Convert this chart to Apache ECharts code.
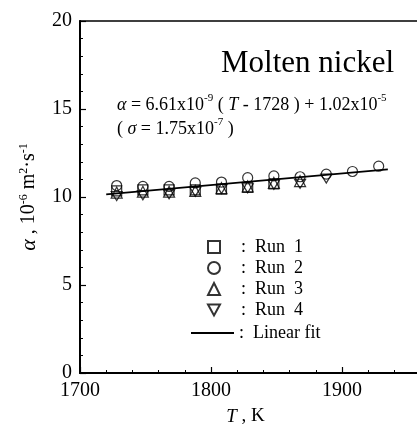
<!DOCTYPE html>
<html><head><meta charset="utf-8">
<script src="https://cdn.jsdelivr.net/npm/echarts@6/dist/echarts.min.js"></script>
<style>html,body{margin:0;padding:0;background:#fff}#c{width:417px;height:437px}</style>
</head><body><div id="c"></div>
<script>
var temps = [1728, 1748, 1768, 1788, 1808, 1828, 1848, 1868, 1888, 1908, 1928];
var run1 = [10.35, 10.4, 10.4, 10.4, 10.45, 10.55, 10.75];
var run2 = [10.65, 10.6, 10.6, 10.8, 10.85, 11.1, 11.2, 11.15, 11.3, 11.45, 11.75];
var run3 = [10.25, 10.3, 10.3, 10.35, 10.5, 10.6, 10.8, 10.9];
var run4 = [10.05, 10.1, 10.15, 10.3, 10.45, 10.5, 10.7, 10.75, 11.05];
var fitT = [1720, 1935];
var fitA = [10.15, 11.57];
var xTicks = [1700, 1800, 1900, 2000];
var yTicks = [0, 5, 10, 15, 20];

function pairs(xs, ys){ return ys.map(function(v,i){ return [xs[i], v]; }); }
var F = 'Liberation Serif, Times New Roman, serif';
var hollow = {color:'rgba(255,255,255,0)', borderColor:'#000', borderWidth:1.2};
var chart = echarts.init(document.getElementById('c'));
chart.setOption({
  animation:false,
  backgroundColor:'#fff',
  grid:{left:80, top:21, width:393, height:352, show:true, borderColor:'#000', borderWidth:1.5, backgroundColor:'transparent', outerBoundsMode:'none', containLabel:false},
  xAxis:{type:'value', min:xTicks[0], max:xTicks[xTicks.length-1], interval:100,
    axisLine:{lineStyle:{color:'#000', width:2}},
    axisTick:{inside:true, length:6, lineStyle:{color:'#000', width:1.2}},
    minorTick:{show:true, splitNumber:5, length:3, lineStyle:{color:'#000', width:1}},
    splitLine:{show:false},
    axisLabel:{color:'#000', fontFamily:F, fontSize:20, margin:8, formatter:function(v){return String(v);}},
    name:'{i|T} , K', nameLocation:'middle', nameGap:34,
    nameTextStyle:{color:'#000', fontFamily:F, fontSize:19, padding:[0,62,0,0], rich:{i:{fontFamily:F, fontStyle:'italic', fontSize:19}}}
  },
  yAxis:{type:'value', min:yTicks[0], max:yTicks[yTicks.length-1], interval:5,
    axisLine:{lineStyle:{color:'#000', width:2}},
    axisTick:{inside:true, length:6, lineStyle:{color:'#000', width:1.2}},
    minorTick:{show:true, splitNumber:5, length:3, lineStyle:{color:'#000', width:1}},
    splitLine:{show:false},
    axisLabel:{color:'#000', fontFamily:F, fontSize:20, margin:8},
    name:'{i|α} , 10{s|-6} m{s|2}·s{s|-1}', nameLocation:'middle', nameGap:40, nameRotate:90,
    nameTextStyle:{color:'#000', fontFamily:F, fontSize:20,
      rich:{i:{fontFamily:F, fontStyle:'italic', fontSize:22}, s:{fontFamily:F, fontSize:12, verticalAlign:'top', padding:[0,0,10,0]}}}
  },
  legend:[
    {orient:'vertical', left:207, top:238, padding:0, itemWidth:12, itemHeight:12, itemGap:3,
      data:['Run 1','Run 2','Run 3','Run 4'],
      formatter:function(n){ return ':  ' + n.replace(' ', '  '); },
      textStyle:{color:'#000', fontFamily:F, fontSize:18, padding:[0,0,0,16]}},
    {orient:'vertical', left:191, top:324, padding:0, itemWidth:43, itemHeight:2,
      data:[{name:'Linear fit', icon:'rect', itemStyle:{color:'#000'}}],
      formatter:function(n){ return ':  ' + n; },
      textStyle:{color:'#000', fontFamily:F, fontSize:18}}
  ],
  graphic:[
    {type:'text', left:221, top:48, style:{text:'Molten nickel', font:'31px '+F, fill:'#000'}},
    {type:'text', left:117, top:93, style:{
      text:'{i|α} = 6.61x10{s|-9} ( {i|T} - 1728 ) + 1.02x10{s|-5}\n( {i|σ} = 1.75x10{s|-7} )',
      font:'18px '+F, fill:'#000', lineHeight:24,
      rich:{i:{fontFamily:F, fontStyle:'italic', fontSize:18, fill:'#000'}, s:{fontFamily:F, fontSize:11, verticalAlign:'top', padding:[0,0,9,0], fill:'#000'}}}}
  ],
  series:[
    {name:'Linear fit', type:'line', data:pairs(fitT, fitA), showSymbol:false, symbol:'none', lineStyle:{color:'#000', width:1.6}, itemStyle:{color:'#000'}, z:1},
    {name:'Run 1', type:'scatter', symbol:'rect', symbolSize:10, data:pairs(temps, run1), itemStyle:hollow, z:2},
    {name:'Run 2', type:'scatter', symbol:'circle', symbolSize:10, data:pairs(temps, run2), itemStyle:hollow, z:2},
    {name:'Run 3', type:'scatter', symbol:'triangle', symbolSize:11, data:pairs(temps, run3), itemStyle:hollow, z:2},
    {name:'Run 4', type:'scatter', symbol:'path://M0,0 L10,0 L5,9 Z', symbolSize:[11,9], data:pairs(temps, run4), itemStyle:hollow, z:2}
  ]
});
</script></body></html>
